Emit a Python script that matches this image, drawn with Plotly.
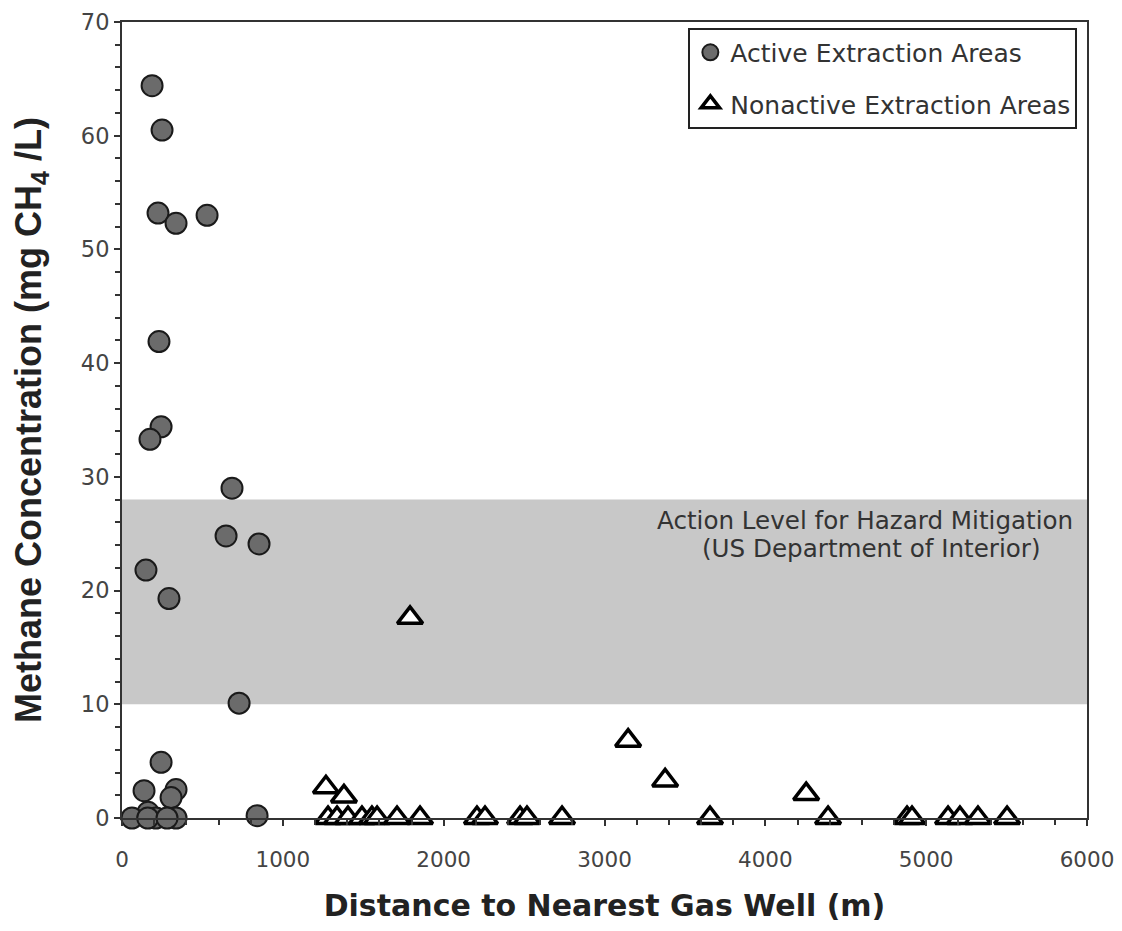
import plotly.graph_objects as go

# Active extraction areas (distance m, methane mg/L)
active_x = [187, 249, 224, 336, 529, 230, 243, 174, 684, 647, 852, 149, 292, 728,
            243, 137, 336, 305, 162, 62, 211, 336, 840, 160, 280]
active_y = [64.4, 60.5, 53.2, 52.3, 53.0, 41.9, 34.4, 33.3, 29.0, 24.8, 24.1, 21.8, 19.3, 10.1,
            4.9, 2.4, 2.5, 1.8, 0.5, 0.0, 0.0, 0.0, 0.2, 0.0, 0.0]

# Nonactive extraction areas
nonactive_x = [1791, 3147, 3377, 4254, 1268, 1380,
               1281, 1337, 1405, 1492, 1554, 1586, 1710, 1853, 2207, 2257, 2475, 2518,
               2736, 3656, 4390, 4881, 4912, 5136, 5210, 5322, 5503]
nonactive_y = [17.6, 6.8, 3.3, 2.1, 2.7, 1.9,
               0, 0, 0, 0, 0, 0, 0, 0, 0, 0, 0, 0,
               0, 0, 0, 0, 0, 0, 0, 0, 0]

band_low, band_high = 10, 28
x_ticks = [0, 1000, 2000, 3000, 4000, 5000, 6000]
y_ticks = [0, 10, 20, 30, 40, 50, 60, 70]
band_label_1 = "Action Level for Hazard Mitigation"
band_label_2 = "(US Department of Interior)"

TXT = "DejaVu Sans"

fig = go.Figure()
fig.add_shape(type="rect", xref="x", yref="y", x0=0, x1=6000, y0=band_low, y1=band_high,
              fillcolor="#c8c8c8", line=dict(width=0), layer="below")

fig.add_trace(go.Scatter(
    x=active_x, y=active_y, mode="markers", name="Active Extraction Areas",
    legendgroup="a",
    marker=dict(symbol="circle", size=21, color="#6b6b6b", line=dict(color="#1a1a1a", width=2)),
    cliponaxis=False))
fig.add_trace(go.Scatter(
    x=nonactive_x, y=nonactive_y, mode="markers", name="Nonactive Extraction Areas",
    legendgroup="b",
    marker=dict(symbol="triangle-up", size=22, color="white", line=dict(color="black", width=3.5)),
    cliponaxis=False))

fig.add_annotation(x=0.988, y=26.2, xref="paper", yref="y", xanchor="right", yanchor="middle",
                   showarrow=False, text=band_label_1,
                   font=dict(family=TXT, size=24.6, color="#333"))
fig.add_annotation(x=0.954, y=23.7, xref="paper", yref="y", xanchor="right", yanchor="middle",
                   showarrow=False, text=band_label_2,
                   font=dict(family=TXT, size=24.6, color="#333"))

fig.update_layout(
    width=1106, height=915,
    margin=dict(l=114, r=27, t=14, b=105),
    paper_bgcolor="white", plot_bgcolor="white",
    font=dict(family=TXT, color="#333"),
    showlegend=True,
    legend=dict(x=0.99, y=0.993, xanchor="right", yanchor="top",
                bordercolor="#222", borderwidth=2, bgcolor="white",
                traceorder="grouped", tracegroupgap=16,
                font=dict(size=25, color="#333", family=TXT), itemwidth=30),
    xaxis=dict(range=[0, 6000], tickvals=x_ticks, ticks="outside", ticklen=6, tickwidth=2,
               tickcolor="#333", showline=True, linecolor="#333", linewidth=2, mirror=True,
               showgrid=False, zeroline=False, tickfont=dict(size=21.5, color="#444", family=TXT),
               ticklabelstandoff=15, ticklabeloverflow="allow", automargin=False,
               minor=dict(dtick=200, ticks="outside", ticklen=5, tickwidth=1.5, tickcolor="#333"),
               title=dict(text="<b>Distance to Nearest Gas Well (m)</b>",
                          font=dict(size=30, color="#222", family="DejaVu Sans"), standoff=28)),
    yaxis=dict(range=[0, 70], tickvals=y_ticks, ticks="outside", ticklen=6, tickwidth=2,
               tickcolor="#333", showline=True, linecolor="#333", linewidth=2, mirror=True,
               showgrid=False, zeroline=False, tickfont=dict(size=22.5, color="#444", family=TXT),
               automargin=False,
               minor=dict(dtick=2, ticks="outside", ticklen=5, tickwidth=1.5, tickcolor="#333"),
               title=dict(text="<b>Methane Concentration (mg CH<sub>4</sub> /L)</b>",
                          font=dict(size=36, color="#222", family="Liberation Sans"),
                          standoff=38)),
)

fig.write_html("out.html")
